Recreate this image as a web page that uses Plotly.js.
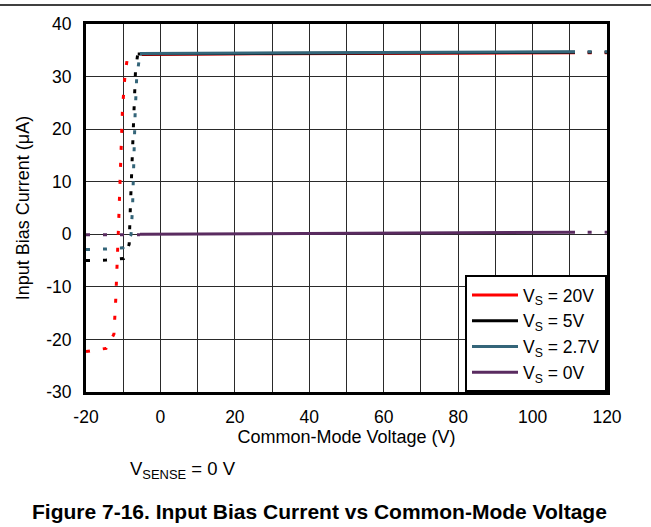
<!DOCTYPE html>
<html>
<head>
<meta charset="utf-8">
<script src="https://cdn.plot.ly/plotly-3.0.1.min.js"></script>
<style>
  html, body { margin: 0; padding: 0; background: #fff; }
  #chart { width: 651px; height: 527px; }
</style>
</head>
<body>
<div id="chart"></div>
<script>
// ---- data ----
const seriesNames = ['V<sub>S</sub> = 20V', 'V<sub>S</sub> = 5V', 'V<sub>S</sub> = 2.7V', 'V<sub>S</sub> = 0V'];

// transition (dotted) portions
const redDotX = [-20, -14.6, -12.5, -12.0, -11.3, -10.7, -10.2, -9.5, -8.8];
const redDotY = [-22.3, -21.7, -19.0, -12.3, 0.7, 13.9, 23.8, 30.5, 33.9];
const blackDotX = [-20, -14.6, -9.9, -8.4, -8.1, -7.6, -7.1, -6.7, -6.1];
const blackDotY = [-5.0, -4.9, -4.6, -1.9, 4.75, 14.6, 24.5, 31.1, 34.3];
const tealDotX = [-20, -14.6, -10.0, -7.9, -7.5, -7.1, -6.8, -6.4, -5.9, -5.5];
const tealDotY = [-2.9, -2.8, -2.55, -0.1, 5.0, 16.3, 22.9, 29.5, 32.8, 34.4];
const purpleDotX = [-20, -5.5];
const purpleDotY = [-0.1, -0.1];

// measured (solid) portions
const redX = [-5.0, 30, 111.4];
const redY = [34.2, 34.35, 34.55];
const blackX = [-6.1, 30, 111.4];
const blackY = [34.3, 34.45, 34.65];
const tealX = [-5.5, 30, 111.4];
const tealY = [34.4, 34.5, 34.7];
const purpleX = [-5.5, 30, 111.4];
const purpleY = [0.0, 0.15, 0.4];

// extrapolated (dotted) tails
const tailX = [114.8, 120];
const redTailY = [34.55, 34.55];
const blackTailY = [34.65, 34.65];
const tealTailY = [34.7, 34.7];
const purpleTailY = [0.4, 0.4];

// ticks
const xTickVals = [-20, 0, 20, 40, 60, 80, 100, 120];
const xTickText = ['-20', '0', '20', '40', '60', '80', '100', '120'];
const yTickVals = [-30, -20, -10, 0, 10, 20, 30, 40];
const yTickText = ['-30', '-20', '-10', '0', '10', '20', '30', '40'];

const colors = ['#ff0000', '#000000', '#346579', '#5a2b60'];
const FONT = 'Liberation Sans, Arial, sans-serif';
const DOT = '4px,13px';

function dotted(x, y, c) {
  return { x: x, y: y, type: 'scatter', mode: 'lines', showlegend: false, hoverinfo: 'skip',
           line: { color: c, width: 3, dash: DOT } };
}
function solid(x, y, c, name) {
  return { x: x, y: y, type: 'scatter', mode: 'lines', name: name,
           line: { color: c, width: 3 } };
}

const traces = [
  dotted(redDotX, redDotY, colors[0]),
  dotted(blackDotX, blackDotY, colors[1]),
  dotted(tealDotX, tealDotY, colors[2]),
  dotted(purpleDotX, purpleDotY, colors[3]),
  solid(redX, redY, colors[0], seriesNames[0]),
  solid(blackX, blackY, colors[1], seriesNames[1]),
  solid(tealX, tealY, colors[2], seriesNames[2]),
  solid(purpleX, purpleY, colors[3], seriesNames[3]),
  dotted(tailX, redTailY, colors[0]),
  dotted(tailX, blackTailY, colors[1]),
  dotted(tailX, tealTailY, colors[2]),
  dotted(tailX, purpleTailY, colors[3])
];

const layout = {
  width: 651, height: 527,
  margin: { l: 86, r: 44, t: 24, b: 135 },
  paper_bgcolor: '#fff', plot_bgcolor: '#fff',
  font: { family: FONT, size: 17, color: '#000' },
  showlegend: true,
  legend: {
    x: 1, y: 0, xanchor: 'right', yanchor: 'bottom',
    bgcolor: '#fff', bordercolor: '#000', borderwidth: 2,
    font: { family: FONT, size: 17.5, color: '#000' },
    itemwidth: 46,
    tracegroupgap: 0
  },
  xaxis: {
    range: [-20, 120], tickvals: xTickVals, ticktext: xTickText,
    showgrid: true, gridcolor: '#2a2a2a', gridwidth: 1,
    minor: { dtick: 10, tick0: 0, showgrid: true, gridcolor: '#2a2a2a', gridwidth: 1, ticks: '' },
    zeroline: false, showline: true, mirror: true, linecolor: '#000', linewidth: 3,
    ticks: 'outside', ticklen: 7, tickcolor: 'rgba(0,0,0,0)',
    tickfont: { family: FONT, size: 17.5, color: '#000' },
    title: { text: 'Common-Mode Voltage (V)', font: { family: FONT, size: 18, color: '#000' }, standoff: 2 }
  },
  yaxis: {
    range: [-30, 40], tickvals: yTickVals, ticktext: yTickText,
    showgrid: true, gridcolor: '#2a2a2a', gridwidth: 1,
    zeroline: false, showline: true, mirror: true, linecolor: '#000', linewidth: 3,
    ticks: 'outside', ticklen: 8, tickcolor: 'rgba(0,0,0,0)',
    tickfont: { family: FONT, size: 17.5, color: '#000' },
    title: { text: 'Input Bias Current (μA)', font: { family: FONT, size: 18, color: '#000' }, standoff: 12 }
  },
  shapes: [
    { type: 'line', xref: 'paper', yref: 'paper', x0: -0.166, x1: 1.085, y0: 1.0516, y1: 1.0516,
      line: { color: '#000', width: 1.5 } }
  ],
  annotations: [
    { xref: 'paper', yref: 'paper', x: 0.0806, y: -0.2115, xanchor: 'left', yanchor: 'middle',
      showarrow: false, text: 'V<sub>SENSE</sub> = 0 V', font: { family: FONT, size: 18.5, color: '#000' } },
    { xref: 'paper', yref: 'paper', x: 0.449, y: -0.3234, xanchor: 'center', yanchor: 'middle',
      showarrow: false, text: '<b>Figure 7-16. Input Bias Current vs Common-Mode Voltage</b>',
      font: { family: FONT, size: 21, color: '#000' } }
  ]
};

Plotly.newPlot('chart', traces, layout, { staticPlot: true, displayModeBar: false });
</script>
</body>
</html>
